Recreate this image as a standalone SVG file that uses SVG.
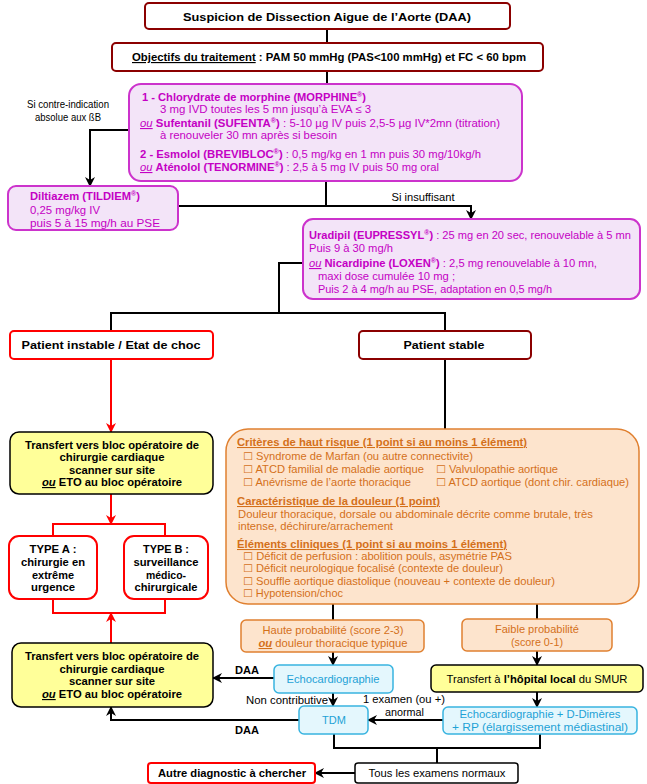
<svg xmlns="http://www.w3.org/2000/svg" width="647" height="784" viewBox="0 0 647 784">
<defs>
<marker id="ab" markerUnits="userSpaceOnUse" markerWidth="10" markerHeight="10" refX="9" refY="5" orient="auto"><path d="M0,0 L10,5 L0,10 L3,5 z" fill="#000"/></marker>
<marker id="ar" markerUnits="userSpaceOnUse" markerWidth="10" markerHeight="10" refX="9" refY="5" orient="auto"><path d="M0,0 L10,5 L0,10 L3,5 z" fill="#f00"/></marker>
</defs>
<style>
text{font-family:"Liberation Sans",Arial,"DejaVu Sans",sans-serif;font-size:11.5px;fill:#000}
.b{font-weight:bold}
.c{text-anchor:middle}
.dr{fill:#fff;stroke:#8b0000;stroke-width:2}
.pu{fill:#f3e4f8;stroke:#cc33cc;stroke-width:2}
.pt{fill:#c400c4;font-size:11px}
.rd{fill:#fff;stroke:#f00;stroke-width:2}
.ye{fill:#ffff99;stroke:#000;stroke-width:1.5}
.or{fill:#fde4cd;stroke:#e08030;stroke-width:1.5}
.ot{fill:#d4701a;font-size:10.5px}
.cy{fill:#e4f7fd;stroke:#38b4e0;stroke-width:1.5}
.ct{fill:#1ea2d6;font-size:11px}
.wb{fill:#fff;stroke:#000;stroke-width:1.5}
.ln{fill:none;stroke:#000;stroke-width:2}
.lr{fill:none;stroke:#f00;stroke-width:2}
.u{text-decoration:underline}
.i{font-style:italic}
.sup{font-size:7px}
</style>

<g id="connectors">
<path class="ln" d="M327,29 V43"/>
<path class="ln" d="M327,71 V84"/>
<path class="ln" d="M129,130 H90 V186" marker-end="url(#ab)"/>
<path class="ln" d="M326,181 V206"/>
<path class="ln" d="M178,206 H471 V219" marker-end="url(#ab)"/>
<path class="ln" d="M303,263 H279 V313"/>
<path class="ln" d="M111,331 V313 H445 V331"/>
<path class="lr" d="M111,359 V432" marker-end="url(#ar)"/>
<path class="lr" d="M111,494 V524" marker-end="url(#ar)"/>
<path class="lr" d="M53,536 V524 H165 V536"/>
<path class="lr" d="M53,599 V613 H165 V599"/>
<path class="lr" d="M111,643 V613" marker-end="url(#ar)"/>
<path class="ln" d="M445,359 V429"/>
<path class="ln" d="M333,604 V620"/>
<path class="ln" d="M537,604 V619"/>
<path class="ln" d="M333,652 V665" marker-end="url(#ab)"/>
<path class="ln" d="M274,678 H213" marker-end="url(#ab)"/>
<path class="ln" d="M537,651 V665" marker-end="url(#ab)"/>
<path class="ln" d="M333,693 V706" marker-end="url(#ab)"/>
<path class="ln" d="M537,692 V707" marker-end="url(#ab)"/>
<path class="ln" d="M443,720 H368" marker-end="url(#ab)"/>
<path class="ln" d="M299,720 H111 V707" marker-end="url(#ab)"/>
<path class="ln" d="M334,734 V748 H540 V734"/>
<path class="ln" d="M437,748 V763"/>
<path class="ln" d="M355,773 H315" marker-end="url(#ab)"/>
<text x="68" y="108" class="c" textLength="82" lengthAdjust="spacingAndGlyphs">Si contre-indication</text>
<text x="68" y="121" class="c" textLength="66" lengthAdjust="spacingAndGlyphs">absolue aux ßB</text>
<text x="423" y="201" class="c" textLength="63" lengthAdjust="spacingAndGlyphs">Si insuffisant</text>
<text x="235" y="674" class="b" textLength="24" lengthAdjust="spacingAndGlyphs">DAA</text>
<text x="235" y="734" class="b" textLength="24" lengthAdjust="spacingAndGlyphs">DAA</text>
<text x="246" y="704" textLength="82" lengthAdjust="spacingAndGlyphs">Non contributive</text>
<text x="363" y="703" textLength="82" lengthAdjust="spacingAndGlyphs">1 examen (ou +)</text>
<text x="385" y="716" textLength="39" lengthAdjust="spacingAndGlyphs">anormal</text>
</g>

<g id="n-suspicion">
<rect class="dr" x="145" y="3" width="365" height="26" rx="4"/>
<text x="327" y="21" class="b c" font-size="13.5" textLength="288" lengthAdjust="spacingAndGlyphs">Suspicion de Dissection Aigue de l’Aorte (DAA)</text>
</g>

<g id="n-objectifs">
<rect class="dr" x="112" y="43" width="431" height="28" rx="4"/>
<text x="132" y="61" class="b" font-size="12.5" textLength="394" lengthAdjust="spacingAndGlyphs"><tspan class="u">Objectifs du traitement</tspan> : PAM 50 mmHg (PAS&lt;100 mmHg) et FC &lt; 60 bpm</text>
</g>

<g id="n-morphine">
<rect class="pu" x="129" y="84" width="393" height="97" rx="12"/>
<text x="142" y="101" class="pt b" textLength="224" lengthAdjust="spacingAndGlyphs">1 - Chlorydrate de morphine (MORPHINE<tspan class="sup" dy="-4">®</tspan><tspan dy="4">)</tspan></text>
<text x="160" y="113" class="pt" textLength="211" lengthAdjust="spacingAndGlyphs">3 mg IVD toutes les 5 mn jusqu’à EVA ≤ 3</text>
<text x="140" y="127" class="pt" textLength="360" lengthAdjust="spacingAndGlyphs"><tspan class="u i">ou</tspan>  <tspan class="b">Sufentanil (SUFENTA<tspan class="sup" dy="-4">®</tspan><tspan dy="4">)</tspan></tspan> : 5-10 µg IV puis 2,5-5 µg IV*2mn (titration)</text>
<text x="160" y="139" class="pt" textLength="177" lengthAdjust="spacingAndGlyphs">à renouveler 30 mn après si besoin</text>
<text x="140" y="158" class="pt" textLength="341" lengthAdjust="spacingAndGlyphs"><tspan class="b">2 - Esmolol (BREVIBLOC<tspan class="sup" dy="-4">®</tspan><tspan dy="4">)</tspan></tspan> : 0,5 mg/kg en 1 mn puis 30 mg/10kg/h</text>
<text x="140" y="171" class="pt" textLength="299" lengthAdjust="spacingAndGlyphs"><tspan class="u i">ou</tspan> <tspan class="b">Aténolol (TENORMINE<tspan class="sup" dy="-4">®</tspan><tspan dy="4">)</tspan></tspan> : 2,5 à 5 mg IV puis 50 mg oral</text>
</g>

<g id="n-diltiazem">
<rect class="pu" x="8" y="186" width="170" height="44" rx="8"/>
<text x="30" y="200" class="pt b" textLength="110" lengthAdjust="spacingAndGlyphs">Diltiazem (TILDIEM<tspan class="sup" dy="-4">®</tspan><tspan dy="4">)</tspan></text>
<text x="30" y="214" class="pt" textLength="70" lengthAdjust="spacingAndGlyphs">0,25 mg/kg IV</text>
<text x="30" y="227" class="pt" textLength="130" lengthAdjust="spacingAndGlyphs">puis 5 à 15 mg/h au PSE</text>
</g>

<g id="n-uradipil">
<rect class="pu" x="303" y="219" width="337" height="80" rx="10"/>
<text x="309" y="239" class="pt" textLength="322" lengthAdjust="spacingAndGlyphs"><tspan class="b">Uradipil (EUPRESSYL<tspan class="sup" dy="-4">®</tspan><tspan dy="4">)</tspan></tspan> : 25 mg en 20 sec, renouvelable à 5 mn</text>
<text x="309" y="252" class="pt" textLength="84" lengthAdjust="spacingAndGlyphs">Puis 9 à 30 mg/h</text>
<text x="309" y="267" class="pt" textLength="288" lengthAdjust="spacingAndGlyphs"><tspan class="u i">ou</tspan> <tspan class="b">Nicardipine (LOXEN<tspan class="sup" dy="-4">®</tspan><tspan dy="4">)</tspan></tspan> : 2,5 mg renouvelable à 10 mn,</text>
<text x="318" y="280" class="pt" textLength="137" lengthAdjust="spacingAndGlyphs">maxi dose cumulée 10 mg ;</text>
<text x="318" y="293" class="pt" textLength="234" lengthAdjust="spacingAndGlyphs">Puis 2 à 4 mg/h au PSE, adaptation en 0,5 mg/h</text>
</g>

<g id="n-instable">
<rect class="rd" x="10" y="331" width="203" height="28" rx="4"/>
<text x="111" y="349" class="b c" font-size="12.5" textLength="179" lengthAdjust="spacingAndGlyphs">Patient instable / Etat de choc</text>
</g>

<g id="n-stable">
<rect class="dr" x="359" y="331" width="172" height="28" rx="4"/>
<text x="444" y="349" class="b c" font-size="12.5" textLength="81" lengthAdjust="spacingAndGlyphs">Patient stable</text>
</g>

<g id="n-transfert1">
<rect class="ye" x="10" y="432" width="203" height="62" rx="9"/>
<text x="112" y="449" class="b c" textLength="174" lengthAdjust="spacingAndGlyphs">Transfert vers bloc opératoire de</text>
<text x="112" y="461" class="b c" textLength="105" lengthAdjust="spacingAndGlyphs">chirurgie cardiaque</text>
<text x="112" y="474" class="b c" textLength="86" lengthAdjust="spacingAndGlyphs">scanner sur site</text>
<text x="112" y="486" class="b c" textLength="140" lengthAdjust="spacingAndGlyphs"><tspan class="u i">ou</tspan> ETO au bloc opératoire</text>
</g>

<g id="n-typeA">
<rect class="rd" x="9" y="536" width="88" height="63" rx="10"/>
<text x="53" y="553" class="b c" textLength="47" lengthAdjust="spacingAndGlyphs">TYPE A :</text>
<text x="53" y="566" class="b c" textLength="64" lengthAdjust="spacingAndGlyphs">chirurgie en</text>
<text x="53" y="579" class="b c" textLength="42" lengthAdjust="spacingAndGlyphs">extrême</text>
<text x="53" y="591" class="b c" textLength="44" lengthAdjust="spacingAndGlyphs">urgence</text>
</g>

<g id="n-typeB">
<rect class="rd" x="124" y="536" width="84" height="63" rx="10"/>
<text x="166" y="553" class="b c" textLength="46" lengthAdjust="spacingAndGlyphs">TYPE B :</text>
<text x="166" y="566" class="b c" textLength="65" lengthAdjust="spacingAndGlyphs">surveillance</text>
<text x="166" y="579" class="b c" textLength="40" lengthAdjust="spacingAndGlyphs">médico-</text>
<text x="166" y="591" class="b c" textLength="63" lengthAdjust="spacingAndGlyphs">chirurgicale</text>
</g>

<g id="n-transfert2">
<rect class="ye" x="12" y="643" width="201" height="64" rx="9"/>
<text x="112" y="660" class="b c" textLength="174" lengthAdjust="spacingAndGlyphs">Transfert vers bloc opératoire de</text>
<text x="112" y="673" class="b c" textLength="105" lengthAdjust="spacingAndGlyphs">chirurgie cardiaque</text>
<text x="112" y="685" class="b c" textLength="86" lengthAdjust="spacingAndGlyphs">scanner sur site</text>
<text x="112" y="698" class="b c" textLength="140" lengthAdjust="spacingAndGlyphs"><tspan class="u i">ou</tspan> ETO au bloc opératoire</text>
</g>

<g id="n-criteres">
<rect class="or" x="226" y="429" width="413" height="175" rx="22"/>
<text x="237" y="446" class="ot b u" textLength="290" lengthAdjust="spacingAndGlyphs">Critères de haut risque (1 point si au moins 1 élément)</text>
<text x="243" y="460" class="ot" textLength="230" lengthAdjust="spacingAndGlyphs">☐ Syndrome de Marfan (ou autre connectivite)</text>
<text x="243" y="473" class="ot" textLength="181" lengthAdjust="spacingAndGlyphs">☐ ATCD familial de maladie aortique</text>
<text x="436" y="473" class="ot" textLength="122" lengthAdjust="spacingAndGlyphs">☐ Valvulopathie aortique</text>
<text x="243" y="486" class="ot" textLength="168" lengthAdjust="spacingAndGlyphs">☐ Anévrisme de l’aorte thoracique</text>
<text x="436" y="486" class="ot" textLength="193" lengthAdjust="spacingAndGlyphs">☐ ATCD aortique (dont chir. cardiaque)</text>
<text x="237" y="505" class="ot b u" textLength="203" lengthAdjust="spacingAndGlyphs">Caractéristique de la douleur (1 point)</text>
<text x="238" y="518" class="ot" textLength="355" lengthAdjust="spacingAndGlyphs">Douleur thoracique, dorsale ou abdominale décrite comme brutale, très</text>
<text x="238" y="530" class="ot" textLength="155" lengthAdjust="spacingAndGlyphs">intense, déchirure/arrachement</text>
<text x="237" y="548" class="ot b u" textLength="270" lengthAdjust="spacingAndGlyphs">Éléments cliniques (1 point si au moins 1 élément)</text>
<text x="243" y="560" class="ot" textLength="269" lengthAdjust="spacingAndGlyphs">☐ Déficit de perfusion : abolition pouls, asymétrie PAS</text>
<text x="243" y="572" class="ot" textLength="260" lengthAdjust="spacingAndGlyphs">☐ Déficit neurologique focalisé (contexte de douleur)</text>
<text x="243" y="585" class="ot" textLength="312" lengthAdjust="spacingAndGlyphs">☐ Souffle aortique diastolique (nouveau + contexte de douleur)</text>
<text x="243" y="597" class="ot" textLength="100" lengthAdjust="spacingAndGlyphs">☐ Hypotension/choc</text>
</g>

<g id="n-haute">
<rect class="or" x="241" y="620" width="183" height="32" rx="5"/>
<text x="333" y="634" class="ot c" textLength="141" lengthAdjust="spacingAndGlyphs">Haute probabilité (score 2-3)</text>
<text x="333" y="647" class="ot c" textLength="149" lengthAdjust="spacingAndGlyphs"><tspan class="b u i">ou</tspan> douleur thoracique typique</text>
</g>

<g id="n-faible">
<rect class="or" x="462" y="619" width="150" height="32" rx="5"/>
<text x="537" y="633" class="ot c" textLength="84" lengthAdjust="spacingAndGlyphs">Faible probabilité</text>
<text x="537" y="646" class="ot c" textLength="52" lengthAdjust="spacingAndGlyphs">(score 0-1)</text>
</g>

<g id="n-echo">
<rect class="cy" x="274" y="665" width="119" height="28" rx="5"/>
<text x="333" y="683" class="ct c" textLength="93" lengthAdjust="spacingAndGlyphs">Echocardiographie</text>
</g>

<g id="n-hopital">
<rect class="ye" x="431" y="665" width="212" height="27" rx="5"/>
<text x="537" y="683" class="c" textLength="181" lengthAdjust="spacingAndGlyphs">Transfert à <tspan class="b">l’hôpital local</tspan> du SMUR</text>
</g>

<g id="n-tdm">
<rect class="cy" x="299" y="706" width="69" height="28" rx="5"/>
<text x="334" y="724" class="ct c">TDM</text>
</g>

<g id="n-echoDD">
<rect class="cy" x="443" y="707" width="194" height="27" rx="5"/>
<text x="540" y="718" class="ct c" textLength="161" lengthAdjust="spacingAndGlyphs">Echocardiographie + D-Dimères</text>
<text x="540" y="731" class="ct c" textLength="176" lengthAdjust="spacingAndGlyphs">+ RP (élargissement médiastinal)</text>
</g>

<g id="n-normaux">
<rect class="wb" x="355" y="763" width="163" height="20" rx="3"/>
<text x="437" y="777" class="c" textLength="137" lengthAdjust="spacingAndGlyphs">Tous les examens normaux</text>
</g>

<g id="n-autre">
<rect class="rd" x="148" y="763" width="167" height="20" rx="3"/>
<text x="232" y="777" class="b c" textLength="148" lengthAdjust="spacingAndGlyphs">Autre diagnostic à chercher</text>
</g>
</svg>
